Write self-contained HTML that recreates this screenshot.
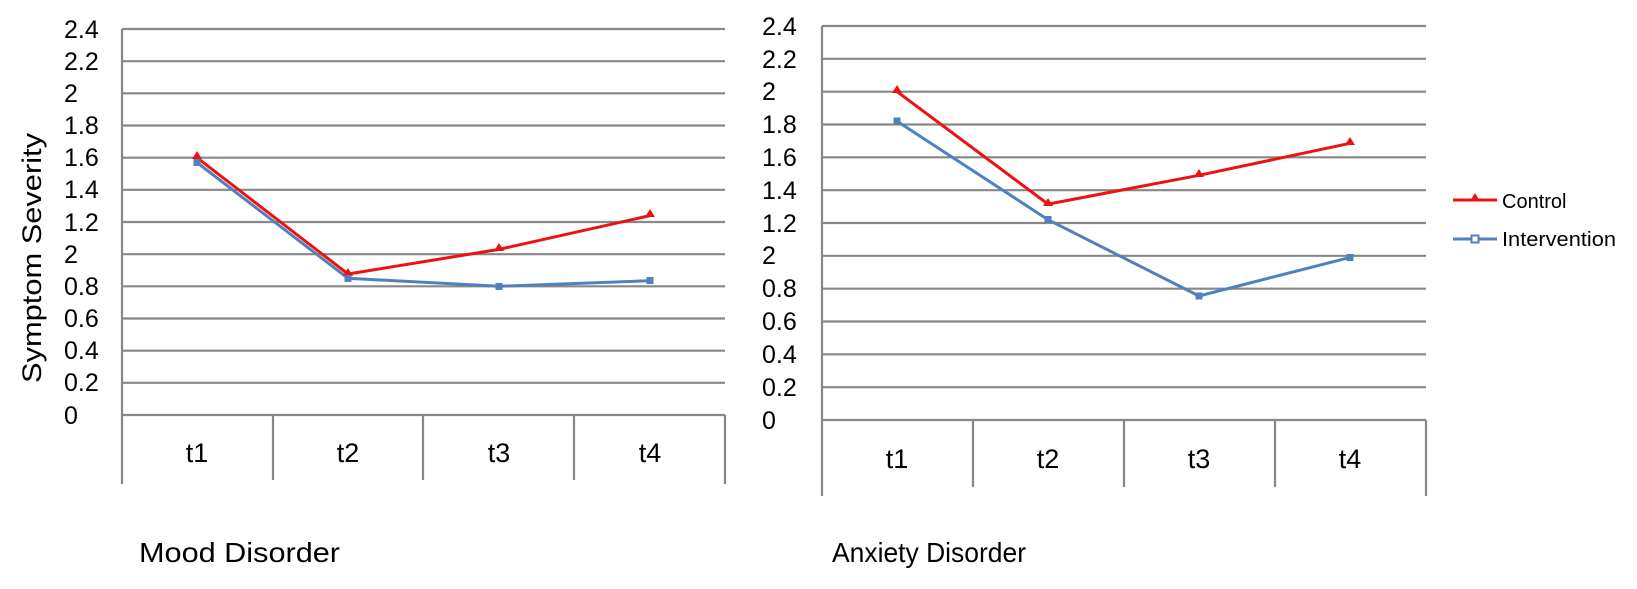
<!DOCTYPE html>
<html><head><meta charset="utf-8"><style>html,body{margin:0;padding:0;background:#fff}svg{display:block}</style></head>
<body>
<svg width="1637" height="589" viewBox="0 0 1637 589" xmlns="http://www.w3.org/2000/svg" font-family="Liberation Sans, sans-serif">
<rect width="1637" height="589" fill="#fff"/>
<g stroke="#878787" stroke-width="2.2" fill="none">
  <line x1="122" y1="29" x2="725" y2="29"/><line x1="122" y1="61.2" x2="725" y2="61.2"/><line x1="122" y1="93.3" x2="725" y2="93.3"/><line x1="122" y1="125.5" x2="725" y2="125.5"/><line x1="122" y1="157.7" x2="725" y2="157.7"/><line x1="122" y1="189.8" x2="725" y2="189.8"/><line x1="122" y1="222" x2="725" y2="222"/><line x1="122" y1="254.2" x2="725" y2="254.2"/><line x1="122" y1="286.3" x2="725" y2="286.3"/><line x1="122" y1="318.5" x2="725" y2="318.5"/><line x1="122" y1="350.7" x2="725" y2="350.7"/><line x1="122" y1="382.8" x2="725" y2="382.8"/><line x1="122" y1="415" x2="725" y2="415"/>
  <line x1="122" y1="29" x2="122" y2="484"/><line x1="273" y1="415" x2="273" y2="480"/><line x1="423" y1="415" x2="423" y2="480"/><line x1="574" y1="415" x2="574" y2="480"/><line x1="725" y1="415" x2="725" y2="484"/>
  <line x1="822" y1="26" x2="1426" y2="26"/><line x1="822" y1="58.8" x2="1426" y2="58.8"/><line x1="822" y1="91.7" x2="1426" y2="91.7"/><line x1="822" y1="124.5" x2="1426" y2="124.5"/><line x1="822" y1="157.3" x2="1426" y2="157.3"/><line x1="822" y1="190.2" x2="1426" y2="190.2"/><line x1="822" y1="223" x2="1426" y2="223"/><line x1="822" y1="255.8" x2="1426" y2="255.8"/><line x1="822" y1="288.7" x2="1426" y2="288.7"/><line x1="822" y1="321.5" x2="1426" y2="321.5"/><line x1="822" y1="354.3" x2="1426" y2="354.3"/><line x1="822" y1="387.2" x2="1426" y2="387.2"/><line x1="822" y1="420" x2="1426" y2="420"/>
  <line x1="822" y1="26" x2="822" y2="496"/><line x1="973" y1="420" x2="973" y2="487"/><line x1="1124" y1="420" x2="1124" y2="487"/><line x1="1275" y1="420" x2="1275" y2="487"/><line x1="1426" y1="420" x2="1426" y2="496"/>
</g>
<g font-size="25" fill="#000">
  <text x="64" y="38">2.4</text><text x="64" y="70">2.2</text><text x="64" y="102">2</text><text x="64" y="134">1.8</text><text x="64" y="166">1.6</text><text x="64" y="198">1.4</text><text x="64" y="231">1.2</text><text x="64" y="263">2</text><text x="64" y="295">0.8</text><text x="64" y="327">0.6</text><text x="64" y="359">0.4</text><text x="64" y="391">0.2</text><text x="64" y="424">0</text>
  <text x="762" y="35">2.4</text><text x="762" y="68">2.2</text><text x="762" y="100">2</text><text x="762" y="133">1.8</text><text x="762" y="166">1.6</text><text x="762" y="199">1.4</text><text x="762" y="232">1.2</text><text x="762" y="264">2</text><text x="762" y="297">0.8</text><text x="762" y="330">0.6</text><text x="762" y="363">0.4</text><text x="762" y="396">0.2</text><text x="762" y="429">0</text>
  <g text-anchor="middle" font-size="27">
  <text x="197" y="462">t1</text><text x="348" y="462">t2</text><text x="499" y="462">t3</text><text x="650" y="462">t4</text>
  <text x="897" y="468">t1</text><text x="1048" y="468">t2</text><text x="1199" y="468">t3</text><text x="1350" y="468">t4</text>
  </g>
  <text x="139" y="562" font-size="28" textLength="201" lengthAdjust="spacingAndGlyphs">Mood Disorder</text>
  <text x="832" y="562" font-size="28" textLength="194" lengthAdjust="spacingAndGlyphs">Anxiety Disorder</text>
  <text transform="translate(41,258) rotate(-90)" font-size="27" text-anchor="middle" textLength="250" lengthAdjust="spacingAndGlyphs">Symptom Severity</text>
</g>
<polyline points="197,157.7 348,274 499,249.4 650,215.6" fill="none" stroke="#ee1111" stroke-width="3"/>
<polyline points="197,162.5 348,278.3 499,286.3 650,280.7" fill="none" stroke="#4f81bd" stroke-width="3"/>
<g fill="#ee1111"><path d="M197,151 l5,8 h-10z"/><path d="M348,268 l5,8 h-10z"/><path d="M499,243 l5,8 h-10z"/><path d="M650,209 l5,8 h-10z"/></g>
<g fill="#4f81bd"><rect x="193.5" y="159" width="7" height="7"/><rect x="344.5" y="275" width="7" height="7"/><rect x="495.5" y="283" width="7" height="7"/><rect x="646.5" y="277" width="7" height="7"/></g>
<polyline points="897,91.6 1048,204.1 1199,175.3 1350,143.3" fill="none" stroke="#ee1111" stroke-width="3"/>
<polyline points="897,121.2 1048,219.7 1199,296 1350,257.4" fill="none" stroke="#4f81bd" stroke-width="3"/>
<g fill="#ee1111"><path d="M897,85 l5,8 h-10z"/><path d="M1048,198 l5,8 h-10z"/><path d="M1199,169 l5,8 h-10z"/><path d="M1350,137 l5,8 h-10z"/></g>
<g fill="#4f81bd"><rect x="893.5" y="117.5" width="7" height="7"/><rect x="1044.5" y="216" width="7" height="7"/><rect x="1195.5" y="292.5" width="7" height="7"/><rect x="1346.5" y="254" width="7" height="7"/></g>
<line x1="1453" y1="200" x2="1497" y2="200" stroke="#ee1111" stroke-width="3"/>
<path d="M1475,193 l5,8 h-10z" fill="#ee1111"/>
<text x="1502" y="208" font-size="20" fill="#000">Control</text>
<line x1="1453" y1="239" x2="1497" y2="239" stroke="#4f81bd" stroke-width="3"/>
<rect x="1471.5" y="235.5" width="7" height="7" fill="#fff" stroke="#4f81bd" stroke-width="2"/>
<text x="1502" y="246" font-size="20" fill="#000" textLength="114" lengthAdjust="spacingAndGlyphs">Intervention</text>
</svg>
</body></html>
